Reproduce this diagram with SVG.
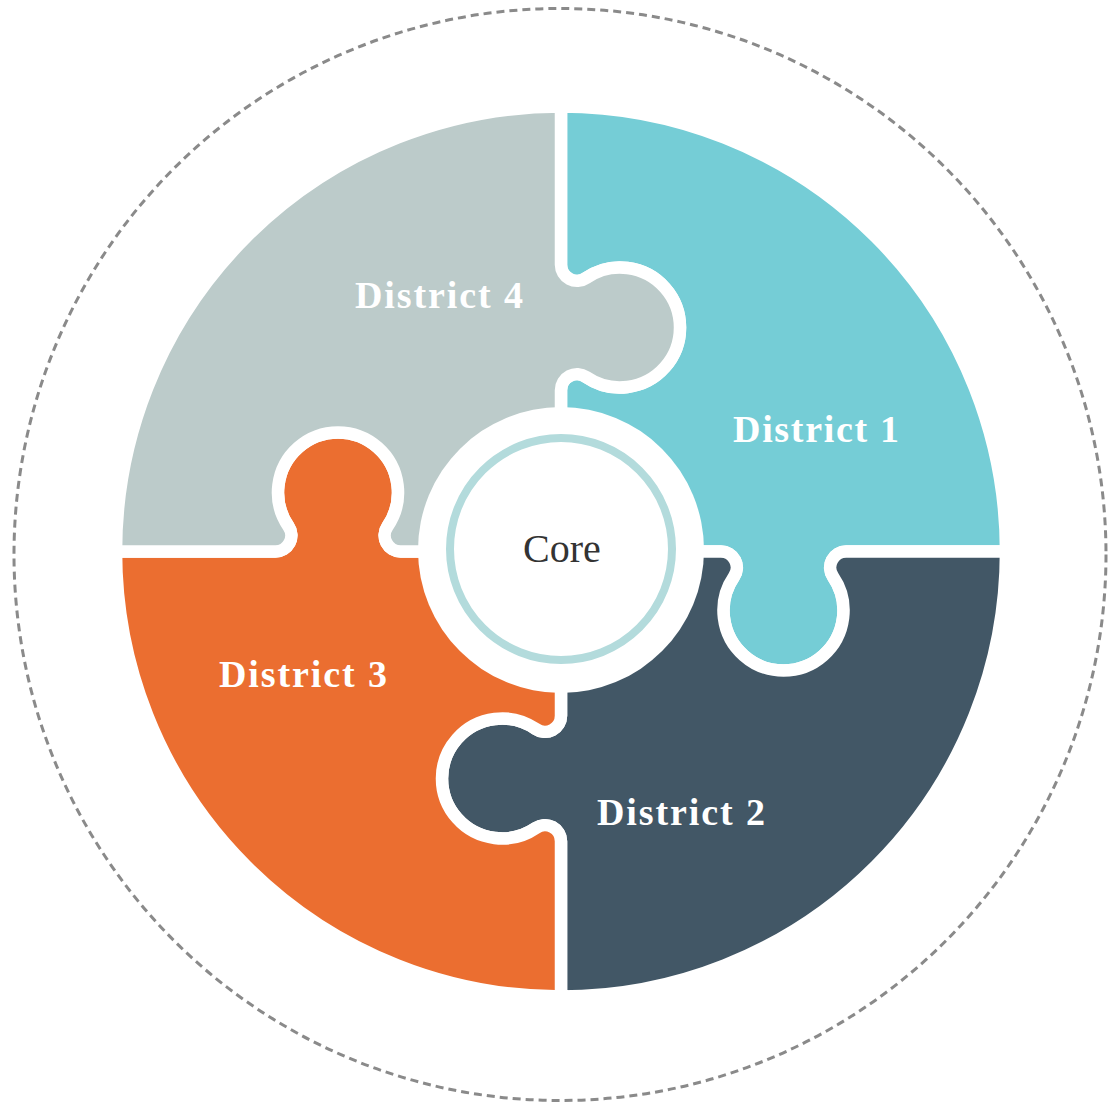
<svg xmlns="http://www.w3.org/2000/svg" width="1110" height="1106" viewBox="0 0 1110 1106">
  <style>
    .piece { stroke: #ffffff; stroke-width: 12.5; stroke-linejoin: round; }
    .label { font-family: "Liberation Serif", "Times New Roman", serif; font-weight: bold; font-size: 38px; fill: #ffffff; text-anchor: middle; }
    .core-text { font-family: "Liberation Serif", "Times New Roman", serif; font-size: 40px; fill: #333333; text-anchor: middle; }
  </style>
  <rect x="0" y="0" width="1110" height="1106" fill="#ffffff"/>
  <circle id="boundary" cx="560" cy="554.5" r="546" fill="none" stroke="#8a8a8a" stroke-width="3" stroke-dasharray="8 5"/>

  <g id="district-1">
    <path class="piece" fill="#75cdd6" d="M 561 551.5 L 561 390.2 A 16 16 0 0 1 586.1 377 A 60 60 0 1 0 586.1 278 A 16 16 0 0 1 561 264.8 L 561 106.5 A 445 445 0 0 1 1006 551.5 L 846.2 551.5 A 16 16 0 0 0 833 576.6 A 60 60 0 1 1 734 576.6 A 16 16 0 0 0 720.8 551.5 Z"/>
    <text class="label" x="816" y="442" textLength="166">District 1</text>
  </g>
  <g id="district-2">
    <path class="piece" fill="#425766" d="M 561 551.5 L 720.8 551.5 A 16 16 0 0 1 734 576.6 A 60 60 0 1 0 833 576.6 A 16 16 0 0 1 846.2 551.5 L 1006 551.5 A 445 445 0 0 1 561 996.5 L 561 841.2 A 16 16 0 0 0 535.9 828 A 60 60 0 1 1 535.9 729 A 16 16 0 0 0 561 715.8 Z"/>
    <text class="label" x="681" y="825" textLength="168">District 2</text>
  </g>
  <g id="district-3">
    <path class="piece" fill="#eb6e30" d="M 561 551.5 L 561 715.8 A 16 16 0 0 1 535.9 729 A 60 60 0 1 0 535.9 828 A 16 16 0 0 1 561 841.2 L 561 996.5 A 445 445 0 0 1 116 551.5 L 275.3 551.5 A 16 16 0 0 0 288.5 526.4 A 60 60 0 1 1 387.5 526.4 A 16 16 0 0 0 400.7 551.5 Z"/>
    <text class="label" x="303" y="687" textLength="168">District 3</text>
  </g>
  <g id="district-4">
    <path class="piece" fill="#bccbca" d="M 561 551.5 L 400.7 551.5 A 16 16 0 0 1 387.5 526.4 A 60 60 0 1 0 288.5 526.4 A 16 16 0 0 1 275.3 551.5 L 116 551.5 A 445 445 0 0 1 561 106.5 L 561 264.8 A 16 16 0 0 0 586.1 278 A 60 60 0 1 1 586.1 377 A 16 16 0 0 0 561 390.2 Z"/>
    <text class="label" x="439" y="308" textLength="168">District 4</text>
  </g>

  <g id="connectors"></g>

  <g id="core">
    <circle cx="561" cy="550" r="143" fill="#ffffff"/>
    <circle cx="561" cy="549" r="111" fill="#ffffff" stroke="#b3dbdc" stroke-width="8"/>
    <text class="core-text" x="562" y="562">Core</text>
  </g>
</svg>
